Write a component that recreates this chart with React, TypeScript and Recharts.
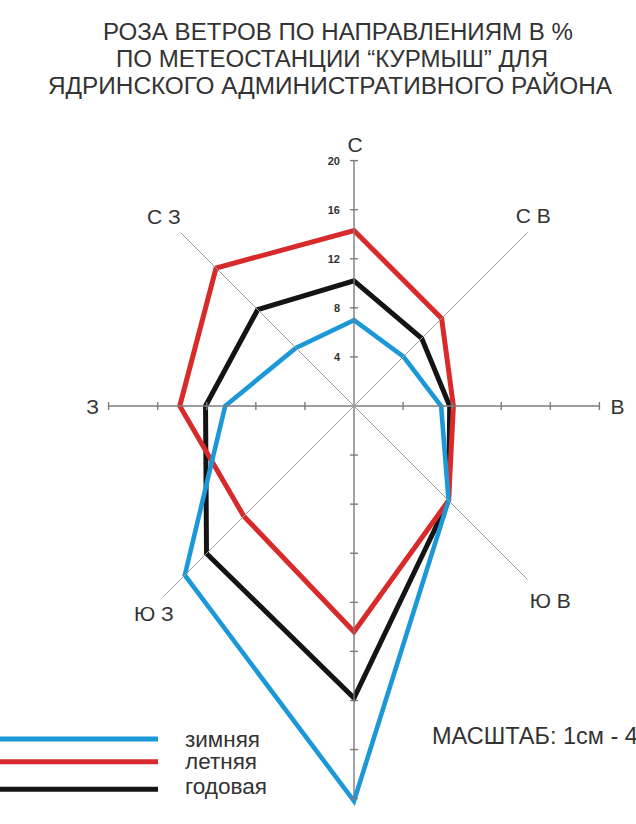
import React from 'react';
import { RadarChart, Radar, PolarAngleAxis, PolarRadiusAxis, Legend } from 'recharts';

// ---- data ----
const directions = ['С', 'С В', 'В', 'Ю В', 'Ю', 'Ю З', 'З', 'С З'];
const winter = [7.0, 5.7, 7.1, 10.9, 32.2, 19.5, 10.5, 6.7];
const summer = [14.3, 10.1, 8.1, 10.9, 18.4, 12.7, 14.2, 15.9];
const annual = [10.2, 7.8, 7.8, 10.9, 23.8, 17.0, 12.1, 11.1];
const mainTicks = [0, 4, 8, 12, 16, 20];
const southTicks = [0, 4, 8, 12, 16, 20, 24, 28, 32];
const diagTicks = [0, 20];
const swTicks = [0, 22];
const seriesNames = { winter: 'зимняя', summer: 'летняя', annual: 'годовая' };
const legendOrder = ['зимняя', 'летняя', 'годовая'];
const titleLines = [
  'РОЗА ВЕТРОВ ПО НАПРАВЛЕНИЯМ В %',
  'ПО МЕТЕОСТАНЦИИ “КУРМЫШ” ДЛЯ',
  'ЯДРИНСКОГО АДМИНИСТРАТИВНОГО РАЙОНА',
];
const scaleText = 'МАСШТАБ: 1см - 4%';

const data = directions.map((dir, i) => ({
  dir,
  winter: winter[i],
  summer: summer[i],
  annual: annual[i],
}));

// ---- styles / layout ----
const W = 636;
const H = 824;
const CX = 354;
const CY = 406;
const OUTER = 245.4;
const FONT = '"Liberation Sans", Arial, sans-serif';
const TEXT = '#333';
const AXIS = '#7c7c7c';
const DIAG = '#9e9e9e';

const series = [
  { key: 'annual', color: '#141414', width: 5 },
  { key: 'summer', color: '#d82a2a', width: 5 },
  { key: 'winter', color: '#1c98d9', width: 4.6 },
];

const titleStyle = [
  { x: 338, y: 39.5, len: 470 },
  { x: 332, y: 66.5, len: 432 },
  { x: 330, y: 93.5, len: 564 },
];

const labelOffsets: Array<[number, number] | null> = [
  [1, -8],
  [0, -11],
  [10, 0],
  [17, 15],
  null,
  [-21, 28],
  [-8, 0],
  [-11, -10],
];

const legendLineY = [14, 36.7, 64.3];
const legendTextY = [21.5, 43.5, 68.5];
const legendTextLen = [75, 72, 82];

const makeTick = (orientation: 'v' | 'h', withLabel: boolean) => (props: any) => {
  const { x, y, payload } = props;
  if (!payload || payload.value === 0) return <g />;
  const len = 4;
  return (
    <g>
      {orientation === 'v' ? (
        <line x1={x - len} x2={x + len} y1={y} y2={y} stroke={AXIS} strokeWidth={1.4} />
      ) : (
        <line x1={x} x2={x} y1={y - len} y2={y + len} stroke={AXIS} strokeWidth={1.4} />
      )}
      {withLabel && (
        <text
          x={x - 14}
          y={y}
          textAnchor="end"
          dominantBaseline="central"
          fontSize={11}
          fontWeight="bold"
          fontFamily={FONT}
          fill={TEXT}
        >
          {payload.value}
        </text>
      )}
    </g>
  );
};

const emptyTick = () => <g />;

const AngleTick = (props: any) => {
  const { x, y, payload, index } = props;
  const off = labelOffsets[index];
  if (!off) return <g />;
  return (
    <text
      x={x + off[0]}
      y={y + off[1]}
      textAnchor="middle"
      dominantBaseline="central"
      fontSize={21}
      fontFamily={FONT}
      fill={TEXT}
    >
      {payload.value}
    </text>
  );
};

const renderLegend = (props: any) => {
  const payload = props.payload || [];
  const items = legendOrder
    .map((n) => payload.find((p: any) => p.value === n))
    .filter(Boolean);
  return (
    <svg width={300} height={80} style={{ display: 'block' }}>
      {items.map((it: any, i: number) => {
        const c = it.payload && it.payload.stroke ? it.payload.stroke : it.color;
        return (
          <g key={it.value}>
            <line x1={0} x2={158} y1={legendLineY[i]} y2={legendLineY[i]} stroke={c} strokeWidth={5} />
            <text
              x={185}
              y={legendTextY[i]}
              fontSize={21.5}
              fontFamily={FONT}
              fill={TEXT}
              textLength={legendTextLen[i]}
              lengthAdjust="spacingAndGlyphs"
            >
              {it.value}
            </text>
          </g>
        );
      })}
    </svg>
  );
};

const axes = [
  { id: 0, angle: 90, ticks: mainTicks, tick: makeTick('v', true), color: AXIS, w: 1.4 },
  { id: 'e', angle: 0, ticks: mainTicks, tick: makeTick('h', false), color: AXIS, w: 1.4 },
  { id: 's', angle: -90, ticks: southTicks, tick: makeTick('v', false), color: AXIS, w: 1.4 },
  { id: 'w', angle: 180, ticks: mainTicks, tick: makeTick('h', false), color: AXIS, w: 1.4 },
  { id: 'ne', angle: 45, ticks: diagTicks, tick: emptyTick, color: DIAG, w: 1 },
  { id: 'nw', angle: 135, ticks: diagTicks, tick: emptyTick, color: DIAG, w: 1 },
  { id: 'se', angle: -45, ticks: diagTicks, tick: emptyTick, color: DIAG, w: 1 },
  { id: 'sw', angle: -135, ticks: swTicks, tick: emptyTick, color: DIAG, w: 1 },
];

export default function App() {
  return (
    <div style={{ position: 'absolute', left: 0, top: 0, width: W, height: H, background: '#fff' }}>
      <RadarChart
        width={W}
        height={H}
        data={data}
        cx={CX}
        cy={CY}
        outerRadius={OUTER}
        margin={{ top: 0, right: 0, bottom: 0, left: 0 }}
        style={{ overflow: 'hidden' }}
      >
        {axes.map((a) => (
          <PolarRadiusAxis
            key={String(a.id)}
            radiusAxisId={a.id as any}
            angle={a.angle}
            type="number"
            domain={[0, 20]}
            allowDataOverflow
            ticks={a.ticks as any}
            tick={a.tick as any}
            axisLine={{ stroke: a.color, strokeWidth: a.w }}
            stroke={a.color}
          />
        ))}
        <PolarAngleAxis dataKey="dir" tick={AngleTick as any} tickLine={false} axisLine={false} />
        {series.map((s) => (
          <Radar
            key={s.key}
            name={(seriesNames as any)[s.key]}
            dataKey={s.key}
            stroke={s.color}
            strokeWidth={s.width}
            strokeLinejoin="miter"
            fill={s.color}
            fillOpacity={0}
            dot={false}
            isAnimationActive={false}
          />
        ))}
        <Legend
          content={renderLegend as any}
          wrapperStyle={{ position: 'absolute', left: 0, top: 725, width: 300, height: 80 }}
        />
        {titleLines.map((t, i) => (
          <text
            key={i}
            x={titleStyle[i].x}
            y={titleStyle[i].y}
            textAnchor="middle"
            fontSize={23.5}
            fontFamily={FONT}
            fill={TEXT}
            textLength={titleStyle[i].len}
            lengthAdjust="spacingAndGlyphs"
          >
            {t}
          </text>
        ))}
        <text x={432} y={743.5} fontSize={23.5} fontFamily={FONT} fill={TEXT}>
          {scaleText}
        </text>
      </RadarChart>
    </div>
  );
}
